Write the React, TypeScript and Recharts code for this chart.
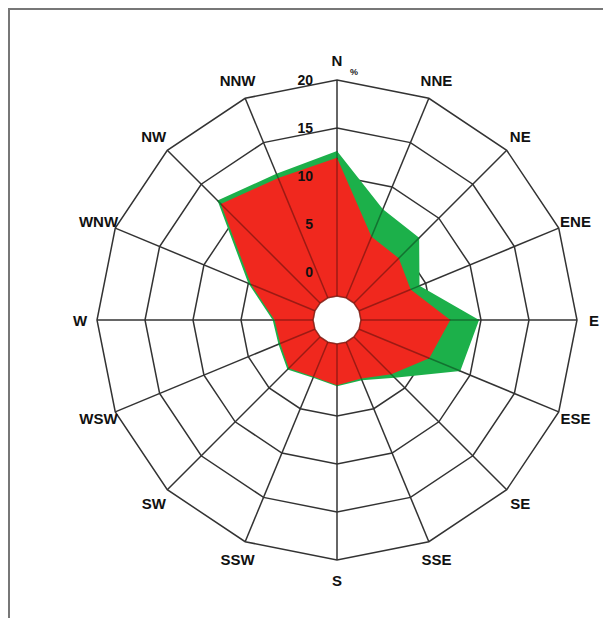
import { RadarChart, Radar, PolarGrid, PolarAngleAxis, PolarRadiusAxis } from "recharts";

const DIRECTIONS = ["N", "NNE", "NE", "ENE", "E", "ESE", "SE", "SSE", "S", "SSW", "SW", "WSW", "W", "WNW", "NW", "NNW"];
// percent frequency per direction
const GREEN = [12.6, 7.5, 7.1, 4.3, 9.8, 8.9, 3.5, 1.8, 1.9, 1.5, 2.3, 1.6, 1.7, 5.0, 12.6, 11.5];
const RED = [11.9, 4.4, 4.1, 3.3, 6.8, 5.4, 3.0, 1.6, 1.8, 1.4, 2.1, 1.4, 1.5, 4.7, 12.1, 11.0];
const RADIAL_TICKS = [0, 5, 10, 15, 20];
const HOLE = -2.5; // value at the edge of the calm circle

const data = DIRECTIONS.map((dir, i) => ({
  dir,
  green: [HOLE, GREEN[i]],
  red: [HOLE, RED[i]],
}));

const FONT = '"Liberation Sans", Arial, sans-serif';

function AngleTick({ x, y, payload }: any) {
  const a = (-payload.coordinate * Math.PI) / 180;
  const off = 9 + 3 * Math.abs(Math.sin(a));
  return (
    <text
      x={x + Math.cos(a) * off}
      y={y + Math.sin(a) * off}
      textAnchor="middle"
      dominantBaseline="central"
      fontFamily={FONT}
      fontWeight="bold"
      fontSize={15}
      fill="#111"
    >
      {payload.value}
    </text>
  );
}

function RadiusTick({ x, y, payload }: any) {
  return (
    <g>
      <text x={x - 24} y={y} textAnchor="end" dominantBaseline="central" fontFamily={FONT} fontWeight="bold" fontSize={14} fill="#111">
        {payload.value}
      </text>
      {payload.value === 20 && (
        <text x={x + 17} y={y - 8} textAnchor="middle" dominantBaseline="central" fontFamily={FONT} fontWeight="bold" fontSize={9} fill="#222">
          %
        </text>
      )}
    </g>
  );
}

// ring-shaped polygon with the spokes showing through it
function RoseShape({ points, baseLinePoints, fill }: any) {
  const ring = (pts: any[]) => "M" + pts.map((p) => `${p.x},${p.y}`).join("L") + "Z";
  const base = baseLinePoints || [];
  return (
    <g>
      <path d={ring(points) + (base.length ? ring(base) : "")} fill={fill} fillRule="evenodd" stroke="none" />
      {base.length > 0 &&
        points.map((p: any, i: number) => (
          <line key={i} x1={base[i].x} y1={base[i].y} x2={p.x} y2={p.y} stroke="#000" strokeOpacity={0.35} strokeWidth={1.5} />
        ))}
      {base.length > 0 && <path d={ring(base)} fill="none" stroke="#7a1810" strokeOpacity={0.6} strokeWidth={1.5} />}
    </g>
  );
}

export default function App() {
  return (
    <div
      style={{
        position: "absolute",
        top: 8,
        left: 8,
        width: 595,
        height: 608,
        borderTop: "2px solid #777",
        borderLeft: "2px solid #777",
        background: "#fff",
      }}
    >
      <RadarChart width={593} height={600} data={data} cx={327} cy={310} outerRadius={240} innerRadius={24}>
        <PolarGrid stroke="#333" strokeWidth={1.5} />
        <PolarAngleAxis dataKey="dir" tick={<AngleTick />} tickLine={false} axisLine={false} />
        <PolarRadiusAxis
          angle={90}
          domain={[HOLE, 20]}
          ticks={RADIAL_TICKS}
          tick={<RadiusTick />}
          axisLine={false}
          tickLine={false}
        />
        <Radar dataKey="green" fill="#1cb04a" fillOpacity={1} shape={RoseShape} isAnimationActive={false} />
        <Radar dataKey="red" fill="#f0281e" fillOpacity={1} shape={RoseShape} isAnimationActive={false} />
      </RadarChart>
    </div>
  );
}
